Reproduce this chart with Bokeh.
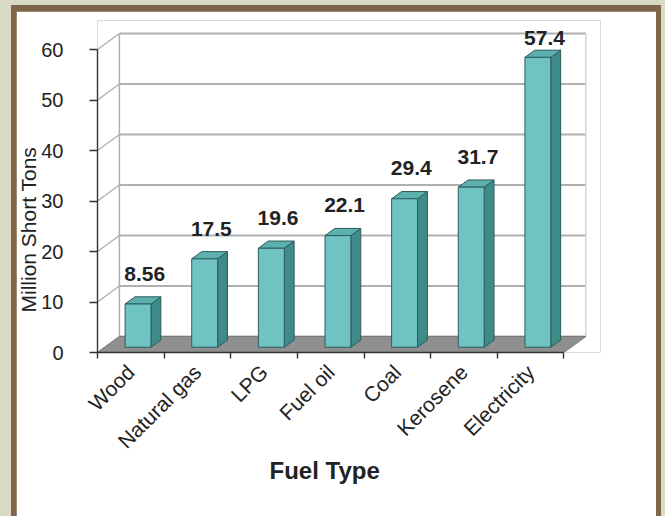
import math
from bokeh.plotting import figure
from bokeh.models import Range1d, FixedTicker, LinearAxis, ColumnDataSource, Title
from bokeh.layouts import column
from bokeh.embed import file_html
from bokeh.resources import INLINE
from bokeh.core.properties import value

# ---- data ----
categories = ["Wood", "Natural gas", "LPG", "Fuel oil", "Coal", "Kerosene", "Electricity"]
values = [8.56, 17.5, 19.6, 22.1, 29.4, 31.7, 57.4]
value_labels = ["8.56", "17.5", "19.6", "22.1", "29.4", "31.7", "57.4"]
y_ticks = [0, 10, 20, 30, 40, 50, 60]
x_title = "Fuel Type"
y_title = "Million Short Tons"

# ---- style constants ----
PX_X = 66.9          # pixels per category
PX_Y = 5.05          # pixels per unit
DX = 22 / PX_X       # 3D depth offset (x, data units)
DY = 16 / PX_Y       # 3D depth offset (y, data units)
T0 = 0.33            # bar front position in depth
TD = 0.45            # bar depth
BW = 26 / PX_X       # bar width
LABEL_OFF = 6.0
LABEL_CAP = 62.2
FONT = "Liberation Sans"
TXT = "#222222"

n = len(categories)
xs_c = list(range(n))
ymax = y_ticks[-1]

FRAME_W, FRAME_H = 505, 332
p = figure(width=640, height=505,
           x_range=Range1d(-0.5, -0.5 + FRAME_W / PX_X),
           y_range=Range1d(0, FRAME_H / PX_Y),
           output_backend="svg", toolbar_location=None,
           x_axis_type=None, y_axis_type=None,
           min_border_left=79, min_border_right=56, min_border_top=9, min_border_bottom=164,
           margin=(6, 5, 0, 5))
p.outline_line_color = None
p.background_fill_color = "white"
p.border_fill_color = "white"
p.xgrid.visible = False
p.ygrid.visible = False

x0, x1 = -0.5, n - 0.5

# back wall gridlines
p.segment(x0=[x0 + DX] * len(y_ticks), y0=[t + DY for t in y_ticks],
          x1=[x1 + DX] * len(y_ticks), y1=[t + DY for t in y_ticks],
          line_color="#b0b0b0", line_width=1.8)
# left wall diagonals
p.segment(x0=[x0] * len(y_ticks), y0=y_ticks,
          x1=[x0 + DX] * len(y_ticks), y1=[t + DY for t in y_ticks],
          line_color="#b0b0b0", line_width=1.5)
# wall vertical edges
p.segment(x0=[x0 + DX, x1 + DX], y0=[DY, DY], x1=[x0 + DX, x1 + DX], y1=[ymax + DY, ymax + DY],
          line_color=["#b0b0b0", "#d5d5d5"], line_width=1.5)

# floor
p.patch(x=[x0, x1, x1 + DX, x0 + DX], y=[0, 0, DY, DY],
        fill_color="#8f8f8f", line_color="#7a7a7a", line_width=1)

# bars
left = [c - BW / 2 + T0 * DX for c in xs_c]
right = [c + BW / 2 + T0 * DX for c in xs_c]
bot = [T0 * DY] * n
top = [v + T0 * DY for v in values]
side_xs, side_ys, top_xs, top_ys = [], [], [], []
for l, r, b, t in zip(left, right, bot, top):
    side_xs.append([r, r + TD * DX, r + TD * DX, r])
    side_ys.append([b, b + TD * DY, t + TD * DY, t])
    top_xs.append([l, r, r + TD * DX, l + TD * DX])
    top_ys.append([t, t, t + TD * DY, t + TD * DY])
p.patches(xs=side_xs, ys=side_ys, fill_color="#3f8b89", line_color="#2c5c5b", line_width=1)
p.patches(xs=top_xs, ys=top_ys, fill_color="#5cb1af", line_color="#2c5c5b", line_width=1)
p.quad(left=left, right=right, bottom=bot, top=top,
       fill_color="#70c3c3", line_color="#2c5c5b", line_width=1)

# value labels
lab_src = ColumnDataSource(dict(
    x=[c + T0 * DX + 0.1 for c in xs_c],
    y=[min(v + T0 * DY + LABEL_OFF, LABEL_CAP) for v in values],
    t=value_labels))
p.text(x="x", y="y", text="t", source=lab_src, text_align="center", text_baseline="alphabetic",
       text_font=value(FONT), text_font_style="bold", text_font_size="21px", text_color=TXT)

# y axis
yax = LinearAxis(ticker=FixedTicker(ticks=y_ticks), bounds=(0, ymax),
                 major_tick_out=8, major_tick_in=0, minor_tick_out=0, minor_tick_in=0,
                 major_label_standoff=26,
                 major_label_text_font=FONT, major_label_text_font_size="20px",
                 major_label_text_color=TXT,
                 axis_line_color="#333333", axis_line_width=1.4,
                 major_tick_line_color="#333333", major_tick_line_width=1.4)
p.add_layout(yax, "left")
p.add_layout(Title(text=y_title, align="left", offset=40, vertical_align="bottom", standoff=-3,
                   text_font=FONT, text_font_size="21px", text_font_style="normal",
                   text_color=TXT), "left")

# x axis
xax = LinearAxis(ticker=FixedTicker(ticks=xs_c, minor_ticks=[c - 0.5 for c in range(n + 1)]),
                 bounds=(x0, x1),
                 major_tick_out=0, major_tick_in=0, minor_tick_out=6, minor_tick_in=0,
                 major_label_overrides={c: name for c, name in zip(xs_c, categories)},
                 major_label_orientation=math.pi / 4, major_label_standoff=10,
                 major_label_text_font=FONT, major_label_text_font_size="21px",
                 major_label_text_color=TXT,
                 axis_line_color="#333333", axis_line_width=1.4,
                 minor_tick_line_color="#333333", minor_tick_line_width=1.4)
p.add_layout(xax, "below")
p.add_layout(Title(text=x_title, align="left", offset=172, vertical_align="top", standoff=-14,
                   text_font=FONT, text_font_size="24px", text_font_style="bold",
                   text_color=TXT), "below")

inner = column(p, margin=(5, 4, 0, 11), styles={"background-color": "#7d6549"})
root = column(inner, width=665, height=516, styles={"background-color": "#d9dac5"})

open("out.html", "w").write(file_html(root, INLINE))
